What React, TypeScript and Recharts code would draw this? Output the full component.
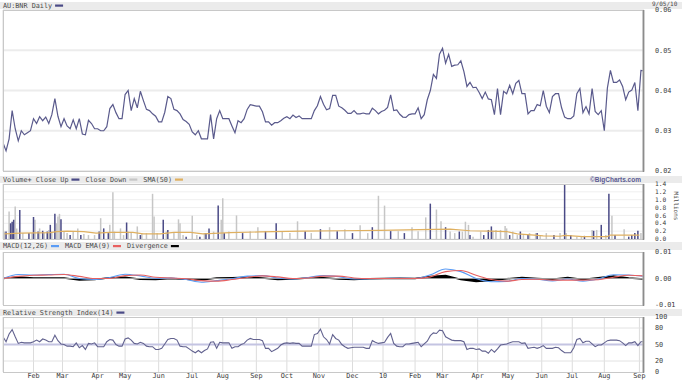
import React from 'react';
import { LineChart, ComposedChart, Line, Bar, Area, XAxis, YAxis, CartesianGrid, ReferenceLine } from 'recharts';

const MONO = '"DejaVu Sans Mono", "Liberation Mono", monospace';
const CW = 4.09;
const FS = 6.8;

// x axis: trading sessions since 2 Jan 2009
const X_DOMAIN: [number, number] = [0, 420];
const monthTicks = [20, 39, 62, 80, 102, 124, 144, 166, 186, 207, 229, 249, 270, 288, 311, 331, 353, 373, 394, 417];
const monthLabels = ['Feb', 'Mar', 'Apr', 'May', 'Jun', 'Jul', 'Aug', 'Sep', 'Oct', 'Nov', 'Dec', '10', 'Feb', 'Mar', 'Apr', 'May', 'Jun', 'Jul', 'Aug', 'Sep'];

const SAMPLE_STEP = 2; // sessions between price / RSI samples
const price = [
  0.027, 0.025, 0.028, 0.035, 0.0305, 0.0275, 0.030, 0.029, 0.0295, 0.030,
  0.033, 0.0318, 0.0335, 0.0325, 0.0334, 0.0318, 0.034, 0.038, 0.0336, 0.031,
  0.033, 0.0312, 0.0305, 0.0327, 0.0305, 0.033, 0.0292, 0.029, 0.0326, 0.0318,
  0.0305, 0.0305, 0.030, 0.030, 0.031, 0.0355, 0.0365, 0.0345, 0.033, 0.033,
  0.039, 0.040, 0.035, 0.038, 0.0357, 0.0398, 0.0375, 0.0353, 0.035, 0.0342,
  0.0336, 0.0322, 0.0322, 0.0346, 0.0385, 0.038, 0.0353, 0.035, 0.0342, 0.0328,
  0.0323, 0.0316, 0.0297, 0.029, 0.030, 0.028, 0.028, 0.028, 0.034, 0.028,
  0.033, 0.035, 0.033, 0.033, 0.033, 0.0312, 0.0295, 0.0325, 0.032, 0.033,
  0.0353, 0.0365, 0.0363, 0.0361, 0.0361, 0.0347, 0.0322, 0.0322, 0.0314, 0.032,
  0.032, 0.0325, 0.0331, 0.0335, 0.033, 0.0339, 0.0333, 0.0337, 0.033, 0.033,
  0.033, 0.033, 0.035, 0.0362, 0.0385, 0.0366, 0.0352, 0.0355, 0.0388, 0.0388,
  0.0361, 0.0357, 0.0351, 0.0343, 0.0343, 0.035, 0.0342, 0.0342, 0.0344, 0.0342,
  0.0342, 0.0356, 0.035, 0.0342, 0.0348, 0.0351, 0.0358, 0.0389, 0.035, 0.0352,
  0.0341, 0.0334, 0.0333, 0.034, 0.0342, 0.0342, 0.0357, 0.033, 0.034, 0.0377,
  0.040, 0.044, 0.043, 0.049, 0.0505, 0.0468, 0.049, 0.046, 0.0463, 0.0464,
  0.0474, 0.0447, 0.041, 0.042, 0.0407, 0.0408, 0.0395, 0.038, 0.0396, 0.0379,
  0.0377, 0.034, 0.0405, 0.034, 0.0398, 0.0392, 0.0413, 0.0392, 0.0418, 0.0425,
  0.0392, 0.0392, 0.0342, 0.035, 0.035, 0.0365, 0.0362, 0.040, 0.0361, 0.0345,
  0.0385, 0.0392, 0.0392, 0.0357, 0.0334, 0.033, 0.033, 0.0337, 0.0392, 0.0405,
  0.0345, 0.036, 0.0342, 0.0405, 0.0348, 0.034, 0.035, 0.030, 0.0406, 0.045,
  0.042, 0.042, 0.0426, 0.041, 0.0377, 0.0396, 0.0401, 0.042, 0.035, 0.045,
  0.0449,
];

const rsi = [
  64, 55, 69, 77, 64, 52, 54, 53, 53, 53,
  55, 58, 55, 60, 58, 55, 55, 67, 57, 51,
  50, 47, 47, 46, 53, 44, 48, 41, 52, 51,
  53, 46, 46, 46, 55, 59, 58, 50, 47, 47,
  60, 62, 58, 52, 51, 54, 52, 47, 46, 46,
  41, 41, 43, 51, 59, 61, 61, 58, 47, 46,
  46, 42, 38, 35, 39, 35, 39, 42, 54, 55,
  43, 54, 53, 53, 53, 43, 46, 46, 50, 52,
  58, 61, 59, 59, 59, 57, 43, 43, 37, 40,
  43, 49, 52, 53, 52, 53, 52, 52, 47, 47,
  47, 47, 68, 70, 78, 64, 59, 51, 68, 61,
  58, 50, 46, 43, 44, 45, 45, 45, 45, 43,
  43, 57, 54, 52, 53, 54, 63, 70, 52, 47,
  46, 46, 51, 51, 52, 53, 54, 46, 51, 56,
  66, 71, 70, 76, 75, 64, 61, 58, 57, 57,
  57, 55, 41, 43, 43, 41, 42, 38, 38, 34,
  41, 36, 42, 49, 50, 51, 53, 55, 55, 55,
  52, 53, 43, 44, 45, 43, 45, 48, 43, 43,
  43, 45, 44, 39, 35, 35, 35, 44, 59, 61,
  53, 56, 56, 51, 46, 49, 49, 53, 57, 58,
  58, 58, 57, 53, 48, 53, 53, 55, 48, 55,
  55,
];

const MACD_STEP = 10; // sessions between MACD samples
const macd = [
  0, 0.0015, 0.0013, 0.0015, 0.0016, 0.0, -0.0004, 0.0004, 0.0016, 0.001,
  0.0001, 0.0002, -0.0004, -0.0014, -0.0008, -0.0001, 0.0009, 0.0011, 0.0002, -0.0002,
  0.0004, 0.0011, 0.0007, -0.0002, -0.0001, 0.0, 0.0001, 0.0, 0.0014, 0.0036,
  0.0026, 0.0, -0.0012, -0.0011, 0.0, -0.0003, -0.0009, -0.0002, -0.001, -0.0002,
  0.0014, 0.0013, 0.0008,
];
const macdEma = [
  0, 0.0008, 0.0012, 0.0013, 0.0015, 0.0008, 0.0, 0.0, 0.0011, 0.0013,
  0.0005, 0.0002, -0.0001, -0.0008, -0.001, -0.0004, 0.0004, 0.001, 0.0006, 0.0,
  0.0002, 0.0009, 0.0009, 0.0002, 0.0, 0.0, 0.0, 0.0, 0.0006, 0.0026,
  0.003, 0.0012, -0.0004, -0.001, -0.0004, -0.0003, -0.0006, -0.0006, -0.0006, -0.0005,
  0.0005, 0.0012, 0.001,
];
const divergence = [
  0, 0.0006, 0.0002, 0.0002, 0.0002, -0.0006, -0.0004, 0.0003, 0.0005, -0.0003,
  -0.0004, 0, -0.0003, -0.0006, 0.0002, 0.0003, 0.0005, 0.0002, -0.0004, -0.0002,
  0.0002, 0.0003, -0.0002, -0.0004, -0.0001, 0, 0.0001, 0, 0.0008, 0.0011,
  -0.0004, -0.0011, -0.0008, -0.0001, 0.0004, 0, -0.0003, 0.0004, -0.0004, 0.0003,
  0.0009, 0.0002, -0.0002,
];

// volume (millions) by session; u = close up, d = close down
const volSession = [
  1, 2, 4, 5, 6, 7, 8, 9, 11, 13, 17, 19, 20, 21, 23, 24, 26, 27, 29, 30,
  31, 32, 34, 35, 36, 37, 38, 40, 42, 44, 46, 49, 51, 53, 56, 60, 63, 64, 66, 69,
  70, 72, 73, 77, 79, 81, 82, 84, 88, 90, 91, 94, 98, 99, 101, 105, 107, 108, 112, 115,
  116, 118, 120, 124, 127, 129, 132, 133, 135, 138, 141, 143, 144, 145, 148,
  153, 157, 162, 167, 172, 179, 183, 188, 193, 198, 202, 208, 214, 219, 224, 229, 234, 239, 242, 246,
  250, 254, 259, 263, 268, 272, 277, 280, 284, 287, 290,
  293, 296, 299, 301, 303, 305, 306, 308, 313, 315, 318, 320, 321, 323, 326, 329, 330, 332, 334, 337,
  339, 341, 344, 345, 349, 350, 352, 356, 361, 365, 368, 369, 372, 376, 379, 381, 386, 387, 389, 392,
  395, 397, 399, 401, 407, 410, 412, 414, 416, 418,
];
const volMillions = [
  0.19, 0.19, 0.70, 0.40, 0.44, 0.49, 0.83, 0.27, 0.74, 0.15, 0.15, 0.15, 0.56, 0.49, 0.19, 0.27, 0.21, 0.15, 0.19, 0.23,
  0.36, 0.19, 0.64, 0.40, 0.57, 0.64, 0.50, 0.19, 0.15, 0.10, 0.19, 0.27, 0.10, 0.13, 0.10, 0.10, 0.19, 0.53, 0.27, 0.15,
  0.36, 1.19, 0.19, 0.27, 0.10, 0.42, 0.19, 0.15, 0.32, 0.10, 0.13, 0.15, 1.15, 0.57, 0.15, 0.49, 0.19, 0.23, 0.15, 0.50,
  0.40, 0.10, 0.06, 0.59, 0.10, 0.06, 0.15, 0.15, 0.27, 0.19, 0.85, 0.49, 1.04, 0.15, 0.19,
  0.60, 0.15, 0.20, 0.30, 0.20, 0.40, 0.20, 0.15, 0.45, 0.20, 0.15, 0.25, 0.30, 0.20, 0.25, 0.15, 0.35, 0.15, 0.30, 1.10,
  0.85, 0.20, 0.20, 0.15, 0.30, 0.20, 0.55, 0.90, 0.75, 0.45, 0.30,
  0.19, 0.15, 0.19, 0.19, 0.44, 0.36, 0.10, 0.06, 0.19, 0.10, 0.23, 0.32, 0.21, 0.23, 0.23, 0.33, 0.27, 0.10, 0.19, 0.10,
  0.19, 0.10, 0.10, 0.15, 0.15, 0.15, 0.10, 0.15, 0.10, 0.15, 1.40, 0.15, 0.10, 0.06, 0.06, 0.08, 0.23, 0.21, 0.23, 0.36,
  0.10, 1.15, 0.59, 0.10, 0.25, 0.06, 0.10, 0.15, 0.21, 0.15,
];
const volDirection = [
  'd', 'u', 'd', 'u', 'u', 'u', 'd', 'd', 'u', 'd', 'u', 'd', 'u', 'd', 'u', 'd', 'u', 'd', 'u', 'd',
  'u', 'd', 'u', 'd', 'd', 'd', 'u', 'd', 'd', 'u', 'd', 'd', 'u', 'd', 'd', 'd', 'u', 'd', 'u', 'u',
  'd', 'd', 'd', 'd', 'd', 'u', 'd', 'd', 'd', 'u', 'd', 'd', 'd', 'd', 'd', 'u', 'd', 'u', 'd', 'd',
  'd', 'd', 'u', 'd', 'd', 'u', 'd', 'u', 'u', 'd', 'u', 'd', 'd', 'u', 'd',
  'd', 'u', 'd', 'd', 'u', 'u', 'd', 'd', 'd', 'u', 'd', 'u', 'd', 'u', 'd', 'u', 'd', 'd', 'u', 'd',
  'd', 'u', 'd', 'u', 'd', 'd', 'd', 'u', 'd', 'd', 'u',
  'd', 'd', 'u', 'd', 'd', 'd', 'u', 'd', 'd', 'u', 'u', 'u', 'd', 'd', 'd', 'd', 'd', 'u', 'd', 'd',
  'u', 'd', 'u', 'd', 'd', 'u', 'd', 'd', 'u', 'd', 'u', 'd', 'u', 'd', 'd', 'u', 'd', 'u', 'd', 'u',
  'd', 'u', 'd', 'u', 'd', 'u', 'u', 'u', 'u', 'd',
];
const smaSession = [1, 11, 31, 35, 42, 53, 61, 70, 85, 92, 103, 112, 123, 131, 149, 168, 195, 221, 247, 273, 293, 306, 319, 330, 337, 348, 354, 365, 368, 380, 396, 398, 417];
const smaValue = [0.13, 0.15, 0.16, 0.19, 0.20, 0.19, 0.15, 0.17, 0.17, 0.13, 0.13, 0.17, 0.17, 0.13, 0.16, 0.18, 0.20, 0.21, 0.22, 0.24, 0.25, 0.21, 0.20, 0.19, 0.13, 0.10, 0.08, 0.07, 0.09, 0.06, 0.06, 0.10, 0.10];

const priceTicks = [0.02, 0.03, 0.04, 0.05, 0.06];
const volTicks = [0, 0.2, 0.4, 0.6, 0.8, 1.0, 1.2, 1.4];
const macdTicks = [-0.01, 0, 0.01];
const rsiTicks = [0, 20, 50, 80, 100];

const priceRows = price.map((p, i) => ({ s: i * SAMPLE_STEP, p }));
const rsiRows = rsi.map((r, i) => ({ s: i * SAMPLE_STEP, r }));
const macdRows = macd.map((m, j) => ({ s: j * MACD_STEP, m, e: macdEma[j], d: divergence[j] }));
const volRows = (() => {
  const map = new Map<number, any>();
  volSession.forEach((s, i) => {
    const row = map.get(s) || { s };
    if (volDirection[i] === 'u') row.up = volMillions[i];
    else row.down = volMillions[i];
    map.set(s, row);
  });
  smaSession.forEach((s, i) => {
    const row = map.get(s) || { s };
    row.sma = smaValue[i];
    map.set(s, row);
  });
  return Array.from(map.values()).sort((a, b) => a.s - b.s);
})();

const tickStyle = { fontSize: FS, fill: '#3a3a3a', fontFamily: MONO };
const smallTickStyle = { fontSize: 6.2, fill: '#3a3a3a', fontFamily: MONO };
const W = 682;
const AXIS_W = 38;
const LEFT = 3;
const PLOT_R = W - AXIS_W;

function LegendRow({ x, y, items }: { x: number; y: number; items: { label: string; color: string }[] }) {
  let pos = x;
  const out: React.ReactNode[] = [];
  items.forEach((it, i) => {
    out.push(
      <text key={'t' + i} x={pos} y={y} fontFamily={MONO} fontSize={FS} fill="#4a4a4a" dominantBaseline="central">
        {it.label}
      </text>
    );
    pos += it.label.length * CW + 3;
    out.push(<rect key={'r' + i} x={pos} y={y - 1} width={8} height={2.2} fill={it.color} />);
    pos += 8 + 6;
  });
  return <g>{out}</g>;
}

const bands = [
  { y: 2, h: 7 },
  { y: 176, h: 7 },
  { y: 242, h: 8 },
  { y: 309, h: 7 },
];
const frames = [
  { y: 10, h: 161 },
  { y: 184, h: 55 },
  { y: 252, h: 53 },
  { y: 317, h: 55 },
];

export default function App() {
  return (
    <div style={{ position: 'absolute', left: 0, top: 0, width: W, height: 382, background: '#fff', overflow: 'hidden' }}>
      <svg width={W} height={382} style={{ position: 'absolute', left: 0, top: 0 }}>
        {bands.map((b, i) => (
          <rect key={i} x={0} y={b.y} width={W} height={b.h} fill="#ebebeb" />
        ))}
      </svg>

      <div style={{ position: 'absolute', left: 0, top: 0 }}>
        <LineChart width={W} height={176} data={priceRows} margin={{ top: 10, right: 0, bottom: 5, left: LEFT }}>
          <CartesianGrid vertical={false} stroke="#ececec" strokeWidth={2} />
          <CartesianGrid horizontal={false} stroke="#dcdcdc" />
          <XAxis type="number" dataKey="s" domain={X_DOMAIN} ticks={monthTicks} height={0} tick={false} axisLine={false} tickLine={false} allowDataOverflow />
          <YAxis orientation="right" width={AXIS_W} domain={[0.02, 0.06]} ticks={priceTicks} interval={0} tickFormatter={(v: number) => v.toFixed(2)} tick={tickStyle} tickLine={false} axisLine={false} tickSize={0} tickMargin={11} allowDataOverflow />
          <Line type="linear" dataKey="p" stroke="#5a5a8c" strokeWidth={1.2} dot={false} isAnimationActive={false} />
        </LineChart>
      </div>

      <div style={{ position: 'absolute', left: 0, top: 178 }}>
        <ComposedChart width={W} height={66} data={volRows} margin={{ top: 6, right: 0, bottom: 5, left: LEFT }}>
          <CartesianGrid vertical={false} stroke="#efefef" />
          <CartesianGrid horizontal={false} stroke="#dcdcdc" />
          <XAxis type="number" dataKey="s" domain={X_DOMAIN} ticks={monthTicks} height={0} tick={false} axisLine={false} tickLine={false} allowDataOverflow />
          <YAxis orientation="right" width={AXIS_W} domain={[0, 1.4]} ticks={volTicks} interval={0} tickFormatter={(v: number) => v.toFixed(1)} tick={smallTickStyle} tickLine={false} axisLine={false} tickSize={0} tickMargin={11} allowDataOverflow />
          <Bar dataKey="down" stackId="v" fill="#c6c6c6" barSize={1.5} isAnimationActive={false} />
          <Bar dataKey="up" stackId="v" fill="#4a4a86" barSize={1.5} isAnimationActive={false} />
          <Line type="linear" dataKey="sma" stroke="#dfb060" strokeWidth={1.2} dot={false} connectNulls isAnimationActive={false} />
        </ComposedChart>
      </div>

      <div style={{ position: 'absolute', left: 0, top: 247 }}>
        <ComposedChart width={W} height={62} data={macdRows} margin={{ top: 5, right: 0, bottom: 4, left: LEFT }}>
          <CartesianGrid horizontal={false} stroke="#dcdcdc" />
          <XAxis type="number" dataKey="s" domain={X_DOMAIN} ticks={monthTicks} height={0} tick={false} axisLine={false} tickLine={false} allowDataOverflow />
          <YAxis orientation="right" width={AXIS_W} domain={[-0.01, 0.01]} ticks={macdTicks} interval={0} tickFormatter={(v: number) => v.toFixed(2)} tick={tickStyle} tickLine={false} axisLine={false} tickSize={0} tickMargin={11} allowDataOverflow />
          <ReferenceLine y={0} stroke="#9a9a9a" />
          <Area type="linear" dataKey="d" stroke="#000" strokeWidth={1.5} fill="#000" fillOpacity={1} baseValue={0} isAnimationActive={false} />
          <Line type="monotone" dataKey="m" stroke="#5b9cf5" strokeWidth={1.1} dot={false} isAnimationActive={false} />
          <Line type="monotone" dataKey="e" stroke="#e86060" strokeWidth={1.1} dot={false} isAnimationActive={false} />
        </ComposedChart>
      </div>

      <div style={{ position: 'absolute', left: 0, top: 311 }}>
        <LineChart width={W} height={71} data={rsiRows} margin={{ top: 6, right: 0, bottom: 0, left: LEFT }}>
          <CartesianGrid horizontal={false} stroke="#dcdcdc" />
          <XAxis type="number" dataKey="s" domain={X_DOMAIN} ticks={monthTicks} interval={0} height={10} tick={tickStyle} tickFormatter={(v: number) => monthLabels[monthTicks.indexOf(v)] ?? ''} axisLine={false} tickLine={false} tickSize={0} tickMargin={1} allowDataOverflow />
          <YAxis orientation="right" width={AXIS_W} domain={[0, 100]} ticks={rsiTicks} interval={0} tick={tickStyle} tickLine={false} axisLine={false} tickSize={0} tickMargin={11} allowDataOverflow />
          <ReferenceLine y={80} stroke="#e2e2e2" />
          <ReferenceLine y={20} stroke="#e2e2e2" />
          <ReferenceLine y={50} stroke="#c4c4e2" strokeWidth={2} />
          <Line type="linear" dataKey="r" stroke="#62628f" strokeWidth={1.1} dot={false} isAnimationActive={false} />
        </LineChart>
      </div>

      <svg width={W} height={382} style={{ position: 'absolute', left: 0, top: 0, pointerEvents: 'none' }}>
        {frames.map((f, i) => (
          <g key={i}>
            <rect x={LEFT + 0.5} y={f.y + 0.5} width={PLOT_R - LEFT - 1.5} height={f.h} fill="none" stroke="#c8c8c8" />
            <line x1={PLOT_R - 0.5} x2={PLOT_R - 0.5} y1={f.y} y2={f.y + f.h + 1} stroke="#8c8c8c" strokeWidth={1.6} />
          </g>
        ))}
        <LegendRow x={3} y={5.5} items={[{ label: 'AU:BNR Daily', color: '#4a4a86' }]} />
        <text x={652} y={3} fontFamily={MONO} fontSize={6} fill="#4a4a4a" dominantBaseline="central">9/05/10</text>
        <LegendRow x={3} y={179.5} items={[
          { label: 'Volume+ Close Up', color: '#4a4a86' },
          { label: 'Close Down', color: '#c6c6c6' },
          { label: 'SMA(50)', color: '#dfb060' },
        ]} />
        <text x={641} y={179.5} textAnchor="end" fontFamily='"Liberation Sans", Arial, sans-serif' fontWeight="bold" fontSize={6.5} fill="#5a5a92" dominantBaseline="central">©BigCharts.com</text>
        <text x={674} y={206} fontFamily={MONO} fontSize={6} fill="#4a4a4a" textAnchor="middle" transform="rotate(90 674 206)">Millions</text>
        <LegendRow x={3} y={246} items={[
          { label: 'MACD(12,26)', color: '#5b9cf5' },
          { label: 'MACD EMA(9)', color: '#e86060' },
          { label: 'Divergence', color: '#000' },
        ]} />
        <LegendRow x={3} y={312.5} items={[{ label: 'Relative Strength Index(14)', color: '#4a4a86' }]} />
      </svg>
    </div>
  );
}
